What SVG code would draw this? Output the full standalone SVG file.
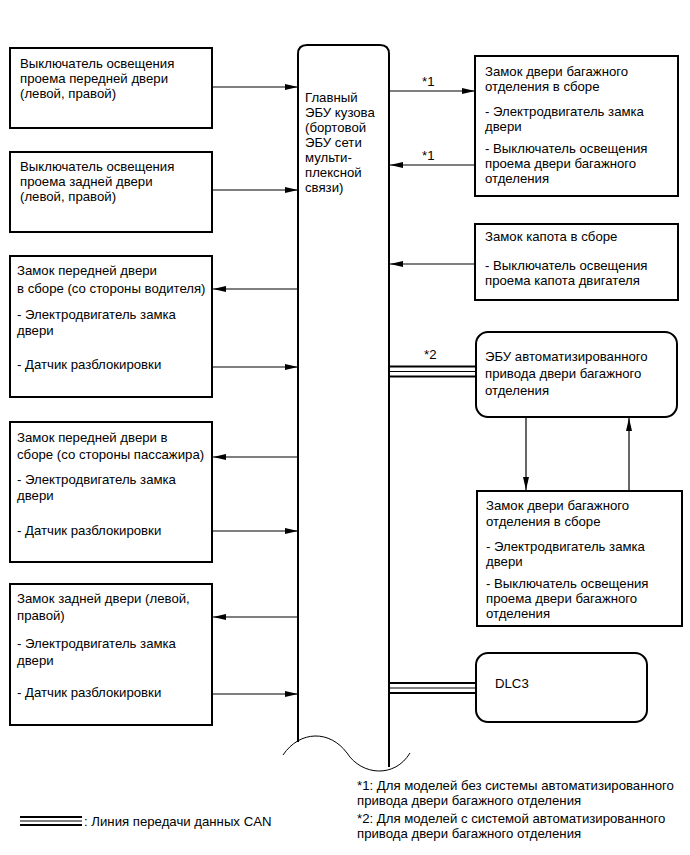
<svg xmlns="http://www.w3.org/2000/svg" width="690" height="855" viewBox="0 0 690 855">
<style>
text{font-family:"Liberation Sans",Arial,sans-serif;font-size:13.2px;fill:#000}
.box{fill:#fff;stroke:#000;stroke-width:2}
.ln{stroke:#000;stroke-width:1.2;fill:none}
.can{stroke:#000;stroke-width:2;fill:none}
.canm{stroke:#000;stroke-width:1;fill:none}
</style>
<defs>
<marker id="ah" markerUnits="userSpaceOnUse" markerWidth="13" markerHeight="7" refX="13" refY="3.5" orient="auto">
<path d="M0,0.5 L13,3.5 L0,6.5 z" fill="#000"/>
</marker>
</defs>
<rect width="690" height="855" fill="#fff"/>

<g id="ecu">
<path d="M298,742 V54 Q298,45 307,45 H380 Q389,45 389,54 V767" fill="none" stroke="#000" stroke-width="2"/>
<path d="M283,755 C300,730 330,730 347,753 C362,776 395,778 410,753" fill="none" stroke="#000" stroke-width="1"/>
<text x="305" y="101.5">Главный</text>
<text x="305" y="116.5">ЭБУ кузова</text>
<text x="305" y="131.5">(бортовой</text>
<text x="305" y="146.5">ЭБУ сети</text>
<text x="305" y="161.5">мульти-</text>
<text x="305" y="176.5">плексной</text>
<text x="305" y="191.5">связи)</text>
</g>

<g id="front-door-courtesy-sw">
<rect class="box" x="10" y="48" width="202" height="80"/>
<text x="20" y="67.5">Выключатель освещения</text>
<text x="20" y="82.5">проема передней двери</text>
<text x="20" y="97.5">(левой, правой)</text>
</g>

<g id="rear-door-courtesy-sw">
<rect class="box" x="10" y="152" width="202" height="80"/>
<text x="20" y="171">Выключатель освещения</text>
<text x="20" y="186">проема задней двери</text>
<text x="20" y="201">(левой, правой)</text>
</g>

<g id="front-door-lock-driver">
<rect class="box" x="10" y="256" width="202" height="141"/>
<text x="17" y="274.5">Замок передней двери</text>
<text x="17" y="292.5">в сборе (со стороны водителя)</text>
<text x="17" y="318.5">- Электродвигатель замка</text>
<text x="17" y="334.5">двери</text>
<text x="17" y="368.5">- Датчик разблокировки</text>
</g>

<g id="front-door-lock-passenger">
<rect class="box" x="10" y="422" width="202" height="140"/>
<text x="17" y="441.5">Замок передней двери в</text>
<text x="17" y="458.5">сборе (со стороны пассажира)</text>
<text x="17" y="483.5">- Электродвигатель замка</text>
<text x="17" y="499.5">двери</text>
<text x="17" y="534.5">- Датчик разблокировки</text>
</g>

<g id="rear-door-lock">
<rect class="box" x="10" y="584" width="202" height="141"/>
<text x="17" y="602.5">Замок задней двери (левой,</text>
<text x="17" y="619.5">правой)</text>
<text x="17" y="647.5">- Электродвигатель замка</text>
<text x="17" y="664.5">двери</text>
<text x="17" y="696.5">- Датчик разблокировки</text>
</g>

<g id="back-door-lock-1">
<rect class="box" x="475" y="56" width="203" height="140"/>
<text x="485" y="76">Замок двери багажного</text>
<text x="485" y="91">отделения в сборе</text>
<text x="485" y="116">- Электродвигатель замка</text>
<text x="485" y="131">двери</text>
<text x="485" y="152.5">- Выключатель освещения</text>
<text x="485" y="167.5">проема двери багажного</text>
<text x="485" y="182.5">отделения</text>
</g>

<g id="hood-lock">
<rect class="box" x="475" y="224" width="203" height="76"/>
<text x="485" y="241">Замок капота в сборе</text>
<text x="485" y="269.5">- Выключатель освещения</text>
<text x="485" y="284.5">проема капота двигателя</text>
</g>

<g id="power-back-door-ecu">
<rect class="box" x="476" y="332" width="201" height="85" rx="12" ry="12"/>
<text x="485" y="361">ЭБУ автоматизированного</text>
<text x="485" y="377.5">привода двери багажного</text>
<text x="485" y="394.5">отделения</text>
</g>

<g id="back-door-lock-2">
<rect class="box" x="477" y="491" width="205" height="135"/>
<text x="486" y="509.5">Замок двери багажного</text>
<text x="486" y="526">отделения в сборе</text>
<text x="486" y="551">- Электродвигатель замка</text>
<text x="486" y="566">двери</text>
<text x="486" y="587.5">- Выключатель освещения</text>
<text x="486" y="602.5">проема двери багажного</text>
<text x="486" y="617.5">отделения</text>
</g>

<g id="dlc3">
<rect class="box" x="476" y="653" width="171" height="69" rx="12" ry="12"/>
<text x="495" y="687.5">DLC3</text>
</g>

<g id="connectors">
<line class="ln" x1="212" y1="87" x2="298" y2="87" marker-end="url(#ah)"/>
<line class="ln" x1="212" y1="190" x2="298" y2="190" marker-end="url(#ah)"/>
<line class="ln" x1="298" y1="289" x2="213" y2="289" marker-end="url(#ah)"/>
<line class="ln" x1="212" y1="367" x2="298" y2="367" marker-end="url(#ah)"/>
<line class="ln" x1="298" y1="457" x2="213" y2="457" marker-end="url(#ah)"/>
<line class="ln" x1="212" y1="531" x2="298" y2="531" marker-end="url(#ah)"/>
<line class="ln" x1="298" y1="617" x2="213" y2="617" marker-end="url(#ah)"/>
<line class="ln" x1="212" y1="694" x2="298" y2="694" marker-end="url(#ah)"/>

<line class="ln" x1="389" y1="91" x2="475" y2="91" marker-end="url(#ah)"/>
<text x="422" y="86">*1</text>
<line class="ln" x1="475" y1="165" x2="390" y2="165" marker-end="url(#ah)"/>
<text x="422" y="160">*1</text>
<line class="ln" x1="475" y1="264" x2="390" y2="264" marker-end="url(#ah)"/>

<line class="can" x1="389" y1="366.5" x2="476" y2="366.5"/>
<line class="canm" x1="389" y1="371.5" x2="476" y2="371.5"/>
<line class="can" x1="389" y1="376.5" x2="476" y2="376.5"/>
<text x="424" y="359">*2</text>

<line class="ln" x1="526" y1="417" x2="526" y2="490" marker-end="url(#ah)"/>
<line class="ln" x1="629" y1="491" x2="629" y2="418" marker-end="url(#ah)"/>

<line class="can" x1="389" y1="683" x2="476" y2="683"/>
<line class="canm" x1="389" y1="688" x2="476" y2="688"/>
<line class="can" x1="389" y1="693" x2="476" y2="693"/>
</g>

<g id="legend">
<line class="can" x1="20" y1="817" x2="82" y2="817"/>
<line class="canm" x1="20" y1="821" x2="82" y2="821"/>
<line class="can" x1="20" y1="825" x2="82" y2="825"/>
<text x="84" y="825.5">: Линия передачи данных CAN</text>
</g>

<g id="notes">
<text x="357" y="789.5">*1: Для моделей без системы автоматизированного</text>
<text x="357" y="804.5">привода двери багажного отделения</text>
<text x="357" y="822.5">*2: Для моделей с системой автоматизированного</text>
<text x="357" y="837.5">привода двери багажного отделения</text>
</g>
</svg>
